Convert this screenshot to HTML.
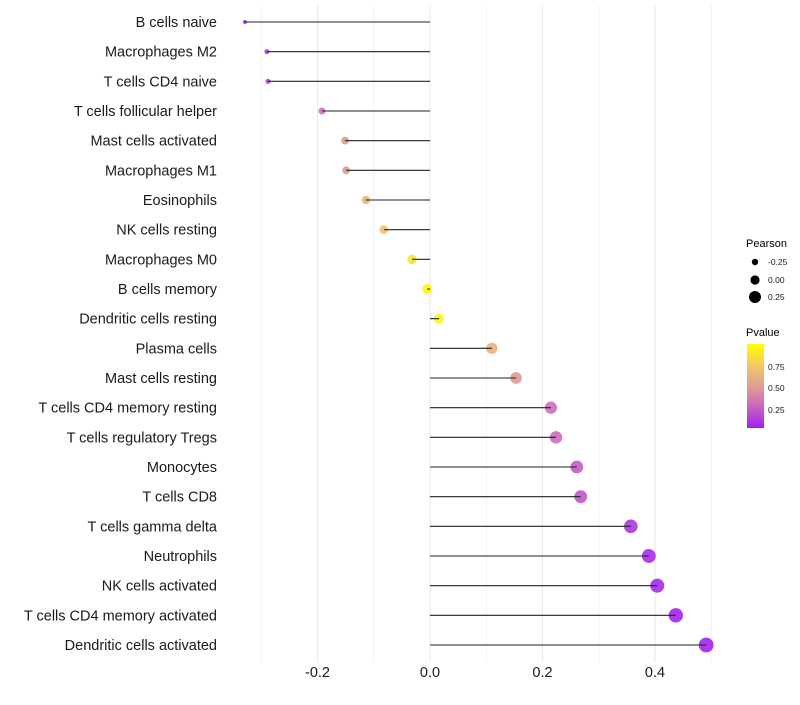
<!DOCTYPE html>
<html><head><meta charset="utf-8"><style>
body{margin:0;background:#fff;font-family:"Liberation Sans",sans-serif}
svg text{font-family:"Liberation Sans",sans-serif}
</style></head><body>
<svg id="chart" width="800" height="700"></svg>
<script>
const categories=["B cells naive","Macrophages M2","T cells CD4 naive","T cells follicular helper","Mast cells activated","Macrophages M1","Eosinophils","NK cells resting","Macrophages M0","B cells memory","Dendritic cells resting","Plasma cells","Mast cells resting","T cells CD4 memory resting","T cells regulatory  Tregs ","Monocytes","T cells CD8","T cells gamma delta","Neutrophils","NK cells activated","T cells CD4 memory activated","Dendritic cells activated"];
const pearson=[-0.329,-0.29,-0.288,-0.192,-0.151,-0.149,-0.114,-0.082,-0.032,-0.005,0.016,0.110,0.153,0.215,0.224,0.261,0.268,0.357,0.389,0.404,0.437,0.491];
const pvalue=[0.03,0.12,0.13,0.3,0.48,0.48,0.62,0.72,0.88,0.98,0.95,0.62,0.48,0.3,0.28,0.22,0.2,0.08,0.05,0.04,0.02,0.01];
const xTicks=[-0.2,0.0,0.2,0.4];
const xTickLabels=["-0.2","0.0","0.2","0.4"];
const NS="http://www.w3.org/2000/svg";
const svg=document.getElementById("chart");
const X=v=>430+v*562.5;
const Y=i=>22+i*29.667;
const R=v=>Math.sqrt(4+(v+0.33)*62);
const stops=[[0,[160,32,240]],[0.3,[208,112,184]],[0.5,[224,160,144]],[0.7,[240,192,112]],[1,[255,255,0]]];
function col(p){for(let k=1;k<stops.length;k++){if(p<=stops[k][0]){const a=stops[k-1],b=stops[k],t=(p-a[0])/(b[0]-a[0]);
 return `rgb(${a[1].map((x,j)=>Math.round(x+(b[1][j]-x)*t))})`;}}return "rgb(255,255,0)";}
function el(t,a,p){const e=document.createElementNS(NS,t);for(const k in a)e.setAttribute(k,a[k]);(p||svg).appendChild(e);return e;}
for(let v=-0.3;v<=0.51;v+=0.1){const g=el("line",{x1:X(v),x2:X(v),y1:5,y2:662,stroke:"#ebebeb","stroke-width":Math.abs(Math.round(v*10))%2?0.6:1.1});

}
categories.forEach((c,i)=>{
 const t=el("text",{x:217,y:Y(i)+5,"text-anchor":"end","font-size":14.5,fill:"#1a1a1a"});t.textContent=c;
 
 
 const d=el("circle",{cx:X(pearson[i]),cy:Y(i),r:R(pearson[i]),fill:col(pvalue[i]),"fill-opacity":0.9});
 
 
 const l=el("line",{x1:X(0),x2:X(pearson[i]),y1:Y(i),y2:Y(i),stroke:"#222","stroke-width":1.1});
 
 
});
xTicks.forEach((v,i)=>{const t=el("text",{x:X(v),y:677,"text-anchor":"middle","font-size":14.5,fill:"#1a1a1a"});t.textContent=xTickLabels[i];
 
 });
const lg=el("g",{});


let t=el("text",{x:746,y:247,"font-size":11,fill:"#000"},lg);t.textContent="Pearson";
[[-0.25,262,3.2],[0,280,4.6],[0.25,297,6]].forEach(([v,y,r])=>{el("circle",{cx:755,cy:y,r:r,fill:"#000"},lg);
 const tt=el("text",{x:768,y:y+3,"font-size":8.5,fill:"#1a1a1a"},lg);tt.textContent=v.toFixed(2);});
t=el("text",{x:746,y:336,"font-size":11,fill:"#000"},lg);t.textContent="Pvalue";
const defs=el("defs",{});const gr=el("linearGradient",{id:"pg",x1:0,y1:1,x2:0,y2:0},defs);
[0,0.15,0.3,0.5,0.7,0.85,1].forEach(o=>el("stop",{offset:o,"stop-color":col(o)},gr));
el("rect",{x:747,y:344,width:17,height:84,fill:"url(#pg)"},lg);
[[0.75,367],[0.50,388],[0.25,410]].forEach(([v,y])=>{const tt=el("text",{x:768,y:y+3,"font-size":8.5,fill:"#1a1a1a"},lg);tt.textContent=v.toFixed(2);});
</script>
</body></html>
